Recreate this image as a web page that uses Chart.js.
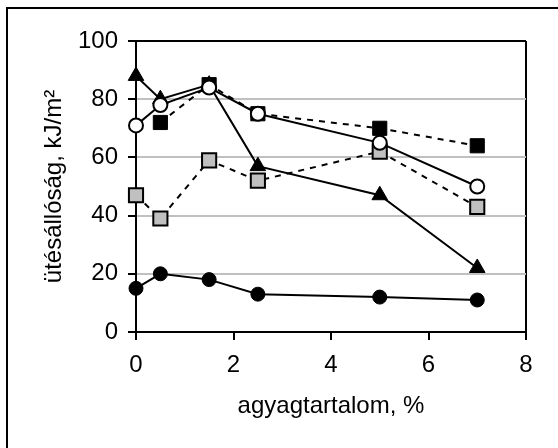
<!DOCTYPE html>
<html>
<head>
<meta charset="utf-8">
<script src="https://cdn.jsdelivr.net/npm/chart.js@4/dist/chart.umd.min.js"></script>
<style>
  html, body { margin: 0; padding: 0; background: #fff; overflow: hidden; }
  .wrap { position: relative; width: 558px; height: 448px; overflow: hidden; }
  .frame { position: absolute; left: 6px; top: 7px; width: 620px; height: 520px; border: 2px solid #000; }
  .plot { position: absolute; left: 0; top: 0; width: 558px; height: 448px; }
</style>
</head>
<body>
<div class="wrap">
  <div class="frame"></div>
  <div class="plot"><canvas id="impactChart"></canvas></div>
</div>
<script>
const clayContent = [0, 0.5, 1.5, 2.5, 5, 7];
const openCircleValues = [71, 78, 84, 75, 65, 50];
const blackSquareValues = [null, 72, 85, 75, 70, 64];
const graySquareValues = [47, 39, 59, 52, 62, 43];
const triangleValues = [88, 80, 85, 57, 47, 22];
const blackCircleValues = [15, 20, 18, 13, 12, 11];
const xTicks = [0, 2, 4, 6, 8];
const yTicks = [0, 20, 40, 60, 80, 100];

document.addEventListener("DOMContentLoaded", () => {
  const canvas = document.getElementById("impactChart");
  const fontFamily = "'Liberation Sans', Arial, sans-serif";
  const gridGray = "#c0c0c0";

  const toPoints = (values) =>
    clayContent
      .map((x, i) => ({ x, y: values[i] }))
      .filter((p) => p.y !== null);

  const series = (values, style) => ({
    data: toPoints(values),
    borderColor: "#000",
    borderWidth: 2,
    pointBorderColor: "#000",
    pointBorderWidth: 2,
    clip: false,
    tension: 0,
    ...style
  });

  new Chart(canvas, {
    type: "line",
    data: {
      datasets: [
        series(openCircleValues, {
          pointStyle: "circle",
          pointRadius: 7,
          pointBackgroundColor: "#fff"
        }),
        series(blackSquareValues, {
          borderDash: [6, 6],
          pointStyle: "rect",
          pointRadius: 10,
          pointBorderWidth: 1,
          pointBackgroundColor: "#000"
        }),
        series(graySquareValues, {
          borderDash: [6, 6],
          pointStyle: "rect",
          pointRadius: 10,
          pointBackgroundColor: "#c0c0c0"
        }),
        series(triangleValues, {
          pointStyle: "triangle",
          pointRadius: 9,
          pointBorderWidth: 1,
          pointBackgroundColor: "#000"
        }),
        series(blackCircleValues, {
          pointStyle: "circle",
          pointRadius: 7,
          pointBorderWidth: 1,
          pointBackgroundColor: "#000"
        })
      ]
    },
    options: {
      responsive: true,
      maintainAspectRatio: false,
      animation: false,
      layout: {
        padding: { left: 40, right: 32, top: 41, bottom: 27 }
      },
      plugins: {
        legend: { display: false },
        tooltip: { enabled: false }
      },
      scales: {
        x: {
          type: "linear",
          min: 0,
          max: 8,
          afterBuildTicks(scale) {
            scale.ticks = xTicks.map((value) => ({ value }));
          },
          afterFit(scale) {
            scale.height = 89;
          },
          border: { color: "#000", width: 2 },
          grid: {
            color: (ctx) => (ctx.tick && ctx.tick.value === 8 ? "#000" : "rgba(0,0,0,0)"),
            tickColor: "#000",
            lineWidth: 2,
            tickLength: 8
          },
          ticks: {
            color: "#000",
            padding: 11,
            maxRotation: 0,
            font: { family: fontFamily, size: 24 }
          },
          title: {
            display: true,
            text: "agyagtartalom, %",
            color: "#000",
            padding: 0,
            font: { family: fontFamily, size: 24 }
          }
        },
        y: {
          min: 0,
          max: 100,
          afterBuildTicks(scale) {
            scale.ticks = yTicks.map((value) => ({ value }));
          },
          afterFit(scale) {
            scale.width = 96;
          },
          border: { color: "#000", width: 2 },
          grid: {
            color: (ctx) => {
              if (!ctx.tick) return gridGray;
              if (ctx.tick.value === 100) return "#000";
              return gridGray;
            },
            tickColor: "#000",
            lineWidth: 2,
            tickLength: 8
          },
          ticks: {
            color: "#000",
            padding: 10,
            font: { family: fontFamily, size: 24 }
          },
          title: {
            display: true,
            text: "ütésállóság, kJ/m²",
            color: "#000",
            padding: 0,
            font: { family: fontFamily, size: 24 }
          }
        }
      }
    }
  });
});
</script>
</body>
</html>
